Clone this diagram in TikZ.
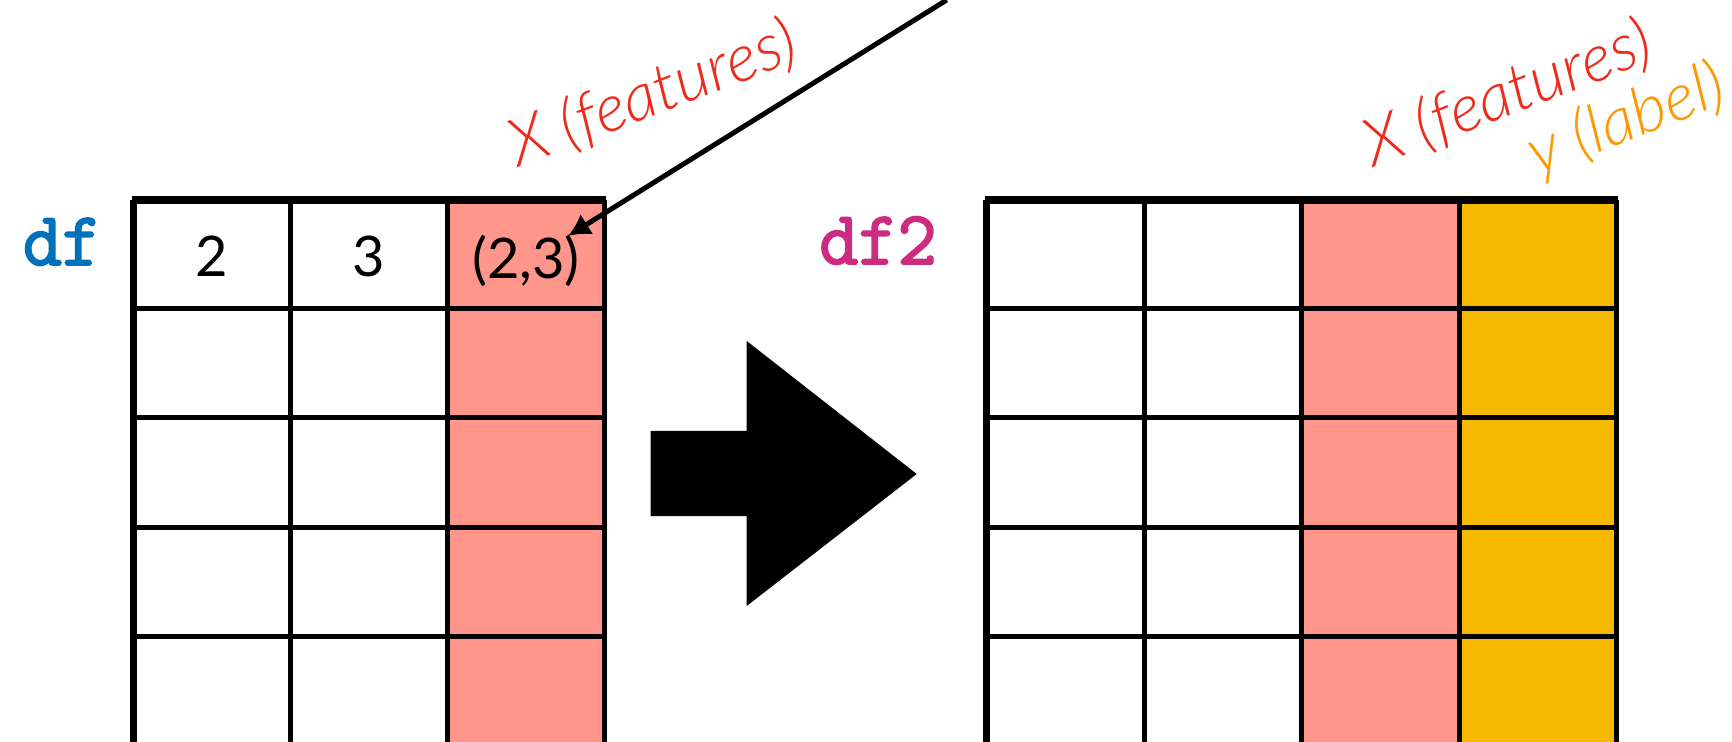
\documentclass[tikz,border=0pt]{standalone}
\usepackage{fontspec}
\setmainfont{Lato}
\newfontfamily\lbl{Lato Light}[ItalicFont={Lato Light Italic}]
\newfontfamily\cour{Latin Modern Mono}[FakeBold=2.5]
\usetikzlibrary{arrows.meta}
\definecolor{pinkc}{HTML}{FF968C}
\definecolor{yellowc}{HTML}{F7B900}
\definecolor{redc}{HTML}{EE2B1B}
\definecolor{orangec}{HTML}{FF9800}
\definecolor{bluec}{HTML}{0072BC}
\definecolor{magc}{HTML}{CC2B80}
\tikzset{
  gridline/.style={line width=2.5pt, black},
  topline/.style={line width=4pt, black},
  leftline/.style={line width=3.5pt, black},
  num/.style={inner sep=0pt, font=\fontsize{28}{30}\selectfont},
  dfname/.style={inner sep=0pt, anchor=base, font=\fontsize{38}{40}\selectfont\cour\bfseries},
  lbltext/.style={inner sep=0pt, anchor=base west, rotate=21, font=\fontsize{33}{35}\selectfont\lbl\itshape},
  pointer/.style={line width=2.5pt, -{Latex[length=11pt,width=12pt]}},
}
\begin{document}
\begin{tikzpicture}[x=0.5pt,y=-0.5pt]
\useasboundingbox (0,0) rectangle (1732,742);
% ---------- left table (df)
\fill[pinkc] (447.5,200) rectangle (604.5,742);
\foreach \yy in {309,418,527.5,636.5} \draw[gridline] (133.5,\yy) -- (604.5,\yy);
\foreach \xx in {290.5,447.5,604.5} \draw[gridline] (\xx,200) -- (\xx,742);
\draw[leftline] (133.5,200) -- (133.5,742);
\draw[topline] (131.75,200) -- (605.75,200);
% ---------- right table (df2)
\fill[pinkc] (1301.5,200) rectangle (1459,742);
\fill[yellowc] (1459,200) rectangle (1616.5,742);
\foreach \yy in {309,418,527.5,636.5} \draw[gridline] (986.5,\yy) -- (1616.5,\yy);
\foreach \xx in {1144,1301.5,1459,1616.5} \draw[gridline] (\xx,200) -- (\xx,742);
\draw[leftline] (986.5,200) -- (986.5,742);
\draw[topline] (984.75,200) -- (1617.75,200);
% ---------- names
\node[dfname, text=bluec] (df) at (62,265) {df};
\node[dfname, text=magc] (df2) at (878,264) {df2};
% ---------- cell values
\node[num] (v1) at (212,256) {2};
\node[num] (v2) at (369,256) {3};
\node[num] (v3) at (526,260.5) {(2,3)};
% ---------- labels
\node[lbltext, text=redc] (xl1) at (518,168) {X (features)};
\node[lbltext, text=redc] (xl2) at (1373,168) {X (features)};
\node[lbltext, text=orangec] (yl2) at (1537,176) {y (label)};
% ---------- pointer
\coordinate (ptsrc) at (946.7,0);
\coordinate (pttip) at (568,236);
\draw[pointer] (ptsrc) -- (pttip);
% ---------- big arrow
\fill[black] (650.7,431) -- (746.7,431) -- (746.7,341) -- (916.7,474) -- (746.7,606) -- (746.7,516) -- (650.7,516) -- cycle;
\end{tikzpicture}
\end{document}
